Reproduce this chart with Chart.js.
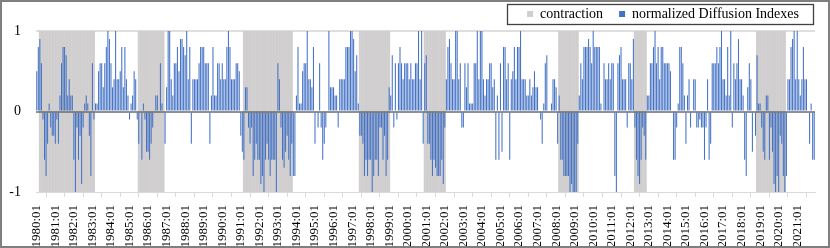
<!DOCTYPE html>
<html>
<head>
<meta charset="utf-8">
<script src="https://cdn.jsdelivr.net/npm/chart.js@4.4.1/dist/chart.umd.min.js"></script>
<style>
  html, body { margin: 0; padding: 0; background: #fff; }
  .chart-box {
    width: 830px; height: 248px;
    box-sizing: border-box;
    border: 2px solid #7f7f7f;
    position: relative;
  }
</style>
</head>
<body>
<div class="chart-box"><canvas id="diChart"></canvas></div>
<script>
// --- dati ---
const years = [];
for (let y = 1980; y <= 2021; y++) years.push(y);
const months = ['01','02','03','04','05','06','07','08','09','10','11','12'];

// periodi di contrazione (inizio, fine)
const contractionPeriods = [
  ['1980:03', '1983:02'],
  ['1985:07', '1986:11'],
  ['1991:03', '1993:10'],
  ['1997:06', '1999:01'],
  ['2000:12', '2002:01'],
  ['2008:03', '2009:03'],
  ['2012:04', '2012:11'],
  ['2018:11', '2020:05']
];

// indice di diffusione normalizzato, una riga per anno
const diffusionIndex = [
  0.5, 0.8, 0.9, 0.6, -0.1, -0.6, -0.8, -0.4, 0.1, -0.2, -0.3, -0.3,   // 1980
  -0.4, -0.1, -0.4, 0.2, 0.6, 0.8, 0.8, 0.7, 0.2, 0.4, 0.2, 0.2,       // 1981
  -0.6, -1.0, -0.2, -0.6, -0.3, -0.9, -0.2, 0.1, 0.2, 0.1, -0.3, -0.8, // 1982
  0.6, -0.1, 0.1, 0.1, 0.5, 0.6, 0.6, 0.3, 0.6, 0.8, 1.0, 0.9,         // 1983
  0.6, 0.3, 0.4, 1.0, 0.4, 0.4, 0.5, 0.8, 0.3, 0.8, 0.4, 0.2,          // 1984
  -0.1, 0.1, 0.2, 0.5, 0.4, -0.1, -0.4, 0, -0.6, 0.1, -0.1, -0.5,      // 1985
  -0.5, -0.6, -0.4, -0.2, 0, 0.2, 0.2, 0, 0.6, 0.1, 0, -0.4,           // 1986
  0.3, 1.0, 1.0, 0.4, 0.2, 0.6, 0.6, 0.8, 0.5, 0.9, 0.9, 0.8,          // 1987
  0.7, 1.0, 0.4, 0.8, -0.4, 0.4, 0.4, 0.4, 0.4, 0.6, 0.8, 0.8,         // 1988
  0.8, 0.6, 0.6, 0.6, -0.4, 0.2, 0.8, 0.2, 0.2, 0.6, 0.6, 0.4,         // 1989
  0.6, 0.4, 0.4, 0.8, 1.0, 0.8, 0.4, 0.4, 0.4, 0.6, 0.6, 0.5,          // 1990
  -0.3, -0.5, -0.6, 0.3, 0.3, -0.2, -0.4, -0.2, -0.8, -0.6, -0.4, -0.6, // 1991
  -0.6, -0.9, -0.8, -1.0, -0.6, -0.4, -0.6, -0.8, -0.6, -0.6, -0.6, -1.0, // 1992
  0.6, 0.4, -0.2, -0.6, -0.7, -0.5, -0.3, -0.6, -0.8, -0.4, -0.8, -0.8, // 1993
  0.2, 0.8, 0.1, 0.1, 0.5, 0.6, 0.6, 1.0, 0.4, 0.4, 0.3, 0.8,          // 1994
  -0.4, 0, -0.2, 0.6, -0.2, -0.6, -0.4, -0.2, 0, 1.0, 0.3, 0.3,        // 1995
  0.3, 0.2, 0.2, -0.2, 0.4, 0.4, 0.4, 0.4, 0.8, 0.8, 0.8, 1.0,         // 1996
  1.0, 0.9, 0.5, 0.7, 0.1, -0.3, -0.3, -0.4, -0.8, -0.6, -0.8, -0.6,   // 1997
  -0.6, -1.0, -0.8, -0.6, -0.6, -0.8, -0.2, -0.2, -0.6, -0.3, -0.8, -0.6, // 1998
  0.3, 0.2, 0.7, -0.2, 0.6, -0.1, 0.6, 0.8, 0.6, 0.4, 0.6, 0.6,        // 1999
  0.6, 0.4, 0.6, 0.4, 0.4, 0.6, 0.6, 1.0, 0.4, 1.0, -0.4, 0.6,         // 2000
  0.7, -0.4, -0.4, -0.6, -0.8, -0.6, -0.7, -0.8, -0.8, -0.8, -0.6, -0.9, // 2001
  -0.2, 0.4, 0.8, 0.9, 0.6, 0.4, 0.4, 1.0, 1.0, 0.4, 0.6, -0.2,        // 2002
  -0.2, 0.6, 0.3, 0.6, 0.1, 0.1, 0.1, 0.6, 0.6, 1.0, 0.4, 1.0,         // 2003
  1.0, 0.4, 0.2, 0.4, 0.4, 0.6, 0.6, 0.3, 0.4, -0.6, 0.2, -0.6,        // 2004
  0.6, -0.5, 0.8, 0.8, 0.4, 0.6, -0.6, 0.4, 0.5, 0.8, 0.4, 0.8,        // 2005
  0.8, 1.0, 0.4, 0.4, 0.4, 0.2, 0.2, 0.4, 0.2, 0.3, 0.5, 0.3,          // 2006
  0.3, 0, -0.1, -0.4, 0.1, 0.6, 0.7, 0, 0, 0.1, 0.4, 0.4,              // 2007
  0.3, -0.4, 0.2, -0.6, -0.6, -0.8, -0.8, -0.8, -0.8, -1.0, -0.9, -1.0, // 2008
  -1.0, -1.0, -0.4, 0.2, 0.6, 0.4, 0.8, 0.8, 0.8, 0.9, 0.8, 0.6,       // 2009
  1.0, 0.8, 0.8, 0.8, 0.8, 0.1, 0, 0.6, 0.4, 0.4, 0.6, 0.4,            // 2010
  0.6, 0.6, -0.8, -1.0, 0.6, 0.7, 0.8, 0.4, 0.4, 0.4, -0.2, 0.6,       // 2011
  0.6, 0.4, 0.9, -0.2, -0.6, -0.8, -0.9, -0.6, -0.2, -0.3, -0.6, 0.2,  // 2012
  0.2, 0.6, 0.6, 0.8, 1.0, 0.6, 0.8, 0.4, 0.8, 0.8, 0.6, 0.6,          // 2013
  0.6, 0.6, 0.5, 0, -0.6, -0.6, -0.2, 0.1, 0.8, 0.8, 0.6, 0.2,         // 2014
  -0.4, 0.2, 0.4, -0.2, 0, 0.4, 0.4, -0.2, -0.2, -0.1, -0.2, -0.2,     // 2015
  -0.6, -0.2, 0.4, -0.6, -0.4, 0.6, 0.6, 0.6, 0.8, 0.6, 0.8, 1.0,      // 2016
  0.4, 0.4, 0.2, 0.8, 0.2, 1.0, -0.2, 0.6, 0.4, 0.6, 0.9, 0.4,         // 2017
  0.4, 0.2, -0.6, -0.8, 0.3, 0.6, 0.4, -0.5, 0, -0.3, 0.7, 0.1,        // 2018
  0.1, -0.2, -0.5, -0.6, 0.2, 0.2, -0.6, -0.2, -0.5, -0.9, -1.0, -0.8, // 2019
  -1.0, -0.3, -0.4, -0.8, -1.0, -0.8, 0.4, 0.4, 0.8, 0.9, 1.0, 0.4,    // 2020
  1.0, 0.4, 0.2, 0.4, 0.8, 0.4, 0.4, 0, -0.4, 0.1, -0.6, -0.6          // 2021
];

const yTicks = [-1, 0, 1];

// etichette mensili "aaaa:mm"
const labels = [];
years.forEach(y => months.forEach(m => labels.push(y + ':' + m)));

// barre grigie da -1 a 1 nei mesi di contrazione
const contractionData = labels.map(lab => {
  const inside = contractionPeriods.some(p => lab >= p[0] && lab <= p[1]);
  return inside ? [-1, 1] : null;
});

const serif = "'Liberation Serif', 'Times New Roman', serif";

// linea dello zero sopra le barre
const zeroLine = {
  id: 'zeroLine',
  afterDatasetsDraw(chart) {
    const { ctx, chartArea, scales } = chart;
    const y = Math.round(scales.y.getPixelForValue(0));
    ctx.save();
    ctx.strokeStyle = '#6d6d6d';
    ctx.lineWidth = 1.5;
    ctx.beginPath();
    ctx.moveTo(chartArea.left, y);
    ctx.lineTo(chartArea.right, y);
    ctx.stroke();
    ctx.restore();
  }
};

// cornice attorno alla legenda
const legendFrame = {
  id: 'legendFrame',
  afterDraw(chart) {
    const boxes = chart.legend && chart.legend.legendHitBoxes;
    if (!boxes || !boxes.length) return;
    let l = Infinity, r = -Infinity, t = Infinity, b = -Infinity;
    boxes.forEach(h => {
      l = Math.min(l, h.left); r = Math.max(r, h.left + h.width);
      t = Math.min(t, h.top); b = Math.max(b, h.top + h.height);
    });
    const ctx = chart.ctx;
    ctx.save();
    ctx.strokeStyle = '#404040';
    ctx.lineWidth = 1.3;
    ctx.strokeRect(Math.round(l - 20) + 0.5, Math.round(t - 3) + 0.5,
                   Math.round(r - l + 34), Math.round(b - t + 6));
    ctx.restore();
  }
};

new Chart(document.getElementById('diChart'), {
  type: 'bar',
  data: {
    labels: labels,
    datasets: [
      {
        label: 'contraction',
        data: contractionData,
        backgroundColor: '#d0cece',
        borderWidth: 0,
        barPercentage: 1.3,
        categoryPercentage: 1,
        grouped: false,
        order: 2
      },
      {
        label: 'normalized Diffusion Indexes',
        data: diffusionIndex,
        backgroundColor: '#4472c4',
        borderWidth: 0,
        inflateAmount: 0,
        barPercentage: 0.68,
        categoryPercentage: 1,
        grouped: false,
        order: 1
      }
    ]
  },
  options: {
    responsive: true,
    maintainAspectRatio: false,
    animation: false,
    layout: { padding: { left: 0, right: 13, top: -11, bottom: 0 } },
    plugins: {
      tooltip: { enabled: false },
      legend: {
        position: 'top',
        align: 'end',
        labels: {
          boxWidth: 6,
          boxHeight: 6,
          padding: 16,
          color: '#000',
          font: { family: serif, size: 14 },
          sort: (a, b) => a.datasetIndex - b.datasetIndex
        }
      }
    },
    scales: {
      x: {
        offset: true,
        afterFit: axis => { axis.paddingLeft = 0; axis.paddingRight = 0; axis.height = 54; },
        grid: {
          drawOnChartArea: false,
          tickLength: 5,
          color: '#d9d9d9'
        },
        border: { display: true, color: '#d9d9d9', width: 1 },
        ticks: {
          autoSkip: false,
          maxRotation: 90,
          minRotation: 90,
          padding: 8,
          color: '#000',
          font: { family: serif, size: 13 },
          callback: function (value) {
            const lab = this.getLabelForValue(value);
            return lab.endsWith(':01') ? lab : null;
          }
        }
      },
      y: {
        min: -1,
        max: 1,
        afterBuildTicks: axis => { axis.ticks = yTicks.map(v => ({ value: v })); },
        afterFit: axis => { axis.width = 34; },
        grid: {
          drawTicks: false,
          lineWidth: 2,
          color: c => (c.tick.value === 1 ? '#dedede' : 'rgba(0,0,0,0)')
        },
        border: { display: false },
        ticks: {
          padding: 15,
          color: '#000',
          font: { family: serif, size: 14 }
        }
      }
    }
  },
  plugins: [zeroLine, legendFrame]
});
</script>
</body>
</html>
